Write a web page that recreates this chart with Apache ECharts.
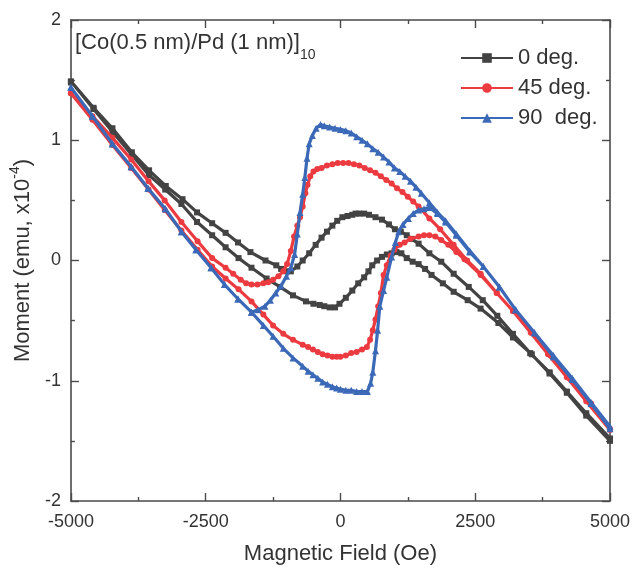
<!DOCTYPE html>
<html><head><meta charset="utf-8">
<script src="https://cdn.jsdelivr.net/npm/echarts@6/dist/echarts.min.js"></script>
<style>html,body{margin:0;padding:0;background:#fff}#c{width:633px;height:572px}</style>
</head><body><div id="c"></div>
<script>
// ---- data (Field in Oe, Moment in emu x1e-4); each loop = sweep down + sweep up ----
const seriesNames = ['0 deg.', '45 deg.', '90  deg.'];
const xTicks = [-5000, -2500, 0, 2500, 5000];
const yTicks = [-2, -1, 0, 1, 2];

const blackDownH = [5000,4560,4200,3880,3520,3200,2910,2640,2380,2100,1870,1650,1450,1320,1230,1120,1010,900,770,650,530,440,350,280,220,130,36,-60,-150,-250,-350,-460,-580,-700,-800,-920,-1000,-1100,-1190,-1390,-1670,-1900,-2130,-2380,-2660,-2930,-3240,-3550,-3870,-4230,-4580,-5000];
const blackDownM = [-1.48,-1.27,-1.09,-0.93,-0.77,-0.61,-0.46,-0.33,-0.22,-0.11,-0.01,0.06,0.14,0.18,0.21,0.24,0.26,0.30,0.34,0.36,0.38,0.39,0.39,0.39,0.38,0.37,0.36,0.33,0.29,0.24,0.19,0.13,0.06,0.00,-0.05,-0.09,-0.09,-0.07,-0.04,0.00,0.07,0.15,0.23,0.31,0.40,0.51,0.62,0.75,0.90,1.10,1.27,1.49];
const blackUpH = [-5000,-4580,-4230,-3870,-3550,-3250,-2950,-2660,-2380,-2130,-1890,-1650,-1370,-1120,-880,-640,-500,-385,-300,-200,-100,-18,100,220,330,440,520,590,680,770,860,950,1040,1130,1230,1340,1450,1570,1690,1900,2100,2360,2600,2930,3200,3550,3880,4200,4560,5000];
const blackUpM = [1.48,1.26,1.07,0.88,0.71,0.59,0.47,0.32,0.21,0.11,0.02,-0.06,-0.15,-0.22,-0.29,-0.34,-0.36,-0.37,-0.38,-0.39,-0.39,-0.36,-0.31,-0.25,-0.19,-0.14,-0.09,-0.04,0.00,0.03,0.05,0.06,0.07,0.06,0.02,-0.01,-0.03,-0.07,-0.12,-0.19,-0.26,-0.33,-0.40,-0.52,-0.64,-0.78,-0.94,-1.10,-1.29,-1.50];

const redDownH = [5000,4650,4250,3900,3550,3200,2900,2600,2350,2100,1850,1650,1450,1350,1250,1150,1050,950,850,750,650,550,450,350,250,150,50,-50,-150,-250,-350,-430,-500,-560,-610,-650,-700,-750,-800,-860,-920,-990,-1060,-1150,-1250,-1340,-1430,-1540,-1650,-1750,-1850,-1990,-2130,-2380,-2650,-2950,-3260,-3560,-3880,-4230,-4600,-5000];
const redDownM = [-1.40,-1.19,-0.98,-0.79,-0.60,-0.42,-0.27,-0.11,0.00,0.13,0.26,0.35,0.45,0.49,0.53,0.57,0.60,0.64,0.67,0.70,0.73,0.75,0.77,0.79,0.80,0.81,0.81,0.81,0.80,0.79,0.77,0.76,0.74,0.70,0.63,0.56,0.45,0.36,0.29,0.20,0.08,-0.03,-0.09,-0.13,-0.16,-0.18,-0.19,-0.20,-0.20,-0.19,-0.16,-0.11,-0.06,0.02,0.16,0.32,0.50,0.66,0.84,1.02,1.20,1.39];
const redUpH = [-5000,-4600,-4230,-3880,-3560,-3260,-2950,-2650,-2380,-2130,-1890,-1650,-1430,-1250,-1060,-880,-700,-600,-510,-420,-330,-240,-150,-70,0,100,200,300,400,490,550,600,650,700,750,800,860,930,1000,1100,1190,1300,1450,1550,1650,1760,1870,2000,2150,2300,2600,2900,3200,3530,3850,4200,4560,5000];
const redUpM = [1.39,1.17,0.96,0.77,0.59,0.42,0.25,0.09,-0.05,-0.15,-0.24,-0.34,-0.45,-0.54,-0.61,-0.66,-0.70,-0.72,-0.74,-0.76,-0.78,-0.79,-0.80,-0.80,-0.80,-0.79,-0.77,-0.76,-0.74,-0.72,-0.66,-0.58,-0.49,-0.38,-0.27,-0.12,-0.04,0.04,0.09,0.13,0.15,0.18,0.20,0.21,0.21,0.20,0.17,0.13,0.07,0.01,-0.12,-0.27,-0.42,-0.60,-0.78,-0.97,-1.17,-1.41];

const blueDownH = [5000,4650,4300,3950,3600,3250,2950,2650,2400,2150,1950,1800,1650,1500,1400,1300,1200,1100,1000,900,800,700,600,500,400,300,200,100,0,-100,-200,-300,-370,-450,-520,-580,-620,-660,-700,-750,-800,-850,-920,-1000,-1100,-1200,-1300,-1400,-1530,-1650,-1900,-2150,-2400,-2680,-2950,-3250,-3570,-3880,-4230,-4600,-5000];
const blueDownM = [-1.38,-1.18,-0.98,-0.79,-0.60,-0.41,-0.22,-0.05,0.08,0.22,0.33,0.40,0.48,0.56,0.61,0.66,0.70,0.74,0.77,0.82,0.86,0.90,0.93,0.97,1.00,1.03,1.06,1.08,1.09,1.10,1.11,1.12,1.13,1.10,1.04,0.97,0.85,0.69,0.55,0.40,0.22,0.05,-0.06,-0.13,-0.21,-0.27,-0.33,-0.38,-0.41,-0.43,-0.32,-0.20,-0.06,0.09,0.24,0.43,0.60,0.78,0.97,1.20,1.44];
const blueUpH = [-5000,-4600,-4230,-3880,-3570,-3250,-2950,-2680,-2400,-2150,-1900,-1650,-1430,-1250,-1060,-880,-700,-600,-510,-420,-330,-240,-150,-70,0,100,200,300,400,500,560,600,650,690,730,800,860,950,1020,1080,1160,1260,1350,1450,1550,1650,1800,1950,2150,2400,2650,2950,3250,3600,3950,4300,4650,5000];
const blueUpM = [1.44,1.20,0.97,0.78,0.60,0.43,0.24,0.09,-0.06,-0.20,-0.32,-0.43,-0.54,-0.63,-0.73,-0.81,-0.88,-0.92,-0.95,-0.98,-1.01,-1.03,-1.05,-1.06,-1.07,-1.08,-1.08,-1.09,-1.09,-1.09,-1.02,-0.93,-0.75,-0.58,-0.38,-0.25,-0.14,0.03,0.15,0.24,0.30,0.35,0.39,0.42,0.43,0.44,0.39,0.32,0.21,0.07,-0.05,-0.22,-0.41,-0.60,-0.80,-0.99,-1.19,-1.40];

const colors = ['#434343', '#ec3b40', '#3b69b8'];
const symbols = ['rect', 'circle', 'triangle'];

function loop(h1, m1, h2, m2) {
  return h1.map((h, i) => [h, m1[i]]).concat(h2.map((h, i) => [h, m2[i]]));
}
const loops = [
  loop(blackDownH, blackDownM, blackUpH, blackUpM),
  loop(redDownH, redDownM, redUpH, redUpM),
  loop(blueDownH, blueDownM, blueUpH, blueUpM)
];

const chart = echarts.init(document.getElementById('c'), null, {renderer: 'canvas'});
const axisCol = '#4a4a4a';
const font = 'Liberation Sans, Arial, sans-serif';
const baseX = {
  type: 'value', min: xTicks[0], max: xTicks[xTicks.length - 1], interval: 2500,
  axisLine: {show: true, onZero: false, lineStyle: {color: axisCol, width: 1.6}},
  axisTick: {show: true, inside: true, length: 8, lineStyle: {color: axisCol, width: 1.4}},
  minorTick: {show: true, splitNumber: 2, length: 4, lineStyle: {color: axisCol, width: 1.4}},
  splitLine: {show: false}
};
const baseY = {
  type: 'value', min: yTicks[0], max: yTicks[yTicks.length - 1], interval: 1,
  axisLine: {show: true, onZero: false, lineStyle: {color: axisCol, width: 1.6}},
  axisTick: {show: true, inside: true, length: 8, lineStyle: {color: axisCol, width: 1.4}},
  minorTick: {show: true, splitNumber: 2, length: 4, lineStyle: {color: axisCol, width: 1.4}},
  splitLine: {show: false}
};

chart.setOption({
  animation: false,
  backgroundColor: '#fff',
  grid: {left: 65, right: 22, top: 20, bottom: 71},
  xAxis: [
    Object.assign({}, baseX, {
      position: 'bottom',
      axisLabel: {show: true, color: '#333', fontSize: 18, fontFamily: font, margin: 12,
        formatter: v => String(v)},
      name: 'Magnetic Field (Oe)', nameLocation: 'middle', nameGap: 42,
      nameTextStyle: {color: '#333', fontSize: 22, fontFamily: font}
    }),
    Object.assign({}, baseX, {position: 'top', axisLabel: {show: false}})
  ],
  yAxis: [
    Object.assign({}, baseY, {
      position: 'left',
      axisLabel: {show: true, color: '#333', fontSize: 18, fontFamily: font, margin: 10,
        formatter: v => String(v)},
      name: '{a|Moment (emu, x10}{b|-4}{a|)}', nameLocation: 'middle', nameGap: 34, nameRotate: 90,
      nameTextStyle: {
        color: '#333', fontFamily: font,
        rich: {
          a: {fontSize: 22, fontFamily: font, color: '#333', verticalAlign: 'bottom', lineHeight: 26},
          b: {fontSize: 14, fontFamily: font, color: '#333', verticalAlign: 'top', lineHeight: 26, padding: [0, 0, 10, 0]}
        }
      }
    }),
    Object.assign({}, baseY, {position: 'right', axisLabel: {show: false}})
  ],
  legend: {
    orient: 'vertical', left: 455, top: 42, itemWidth: 52, itemHeight: 12, itemGap: 8,
    data: seriesNames,
    textStyle: {fontSize: 22, fontFamily: font, color: '#333'}
  },
  graphic: [{
    type: 'text', left: 75, top: 32,
    style: {
      text: '{a|[Co(0.5 nm)/Pd (1 nm)]}{b|10}',
      rich: {
        a: {fontSize: 22, fontFamily: font, fill: '#333', verticalAlign: 'top', lineHeight: 30},
        b: {fontSize: 14, fontFamily: font, fill: '#333', verticalAlign: 'bottom', lineHeight: 30, padding: [12, 0, 0, 0]}
      }
    }
  }],
  series: loops.map((d, i) => ({
    name: seriesNames[i], type: 'line', data: d, xAxisIndex: 0, yAxisIndex: 0,
    symbol: symbols[i], symbolSize: i === 2 ? 7 : 6, showSymbol: true,
    lineStyle: {color: colors[i], width: 3.2},
    itemStyle: {color: colors[i]},
    z: 2 + i
  }))
});
</script></body></html>
